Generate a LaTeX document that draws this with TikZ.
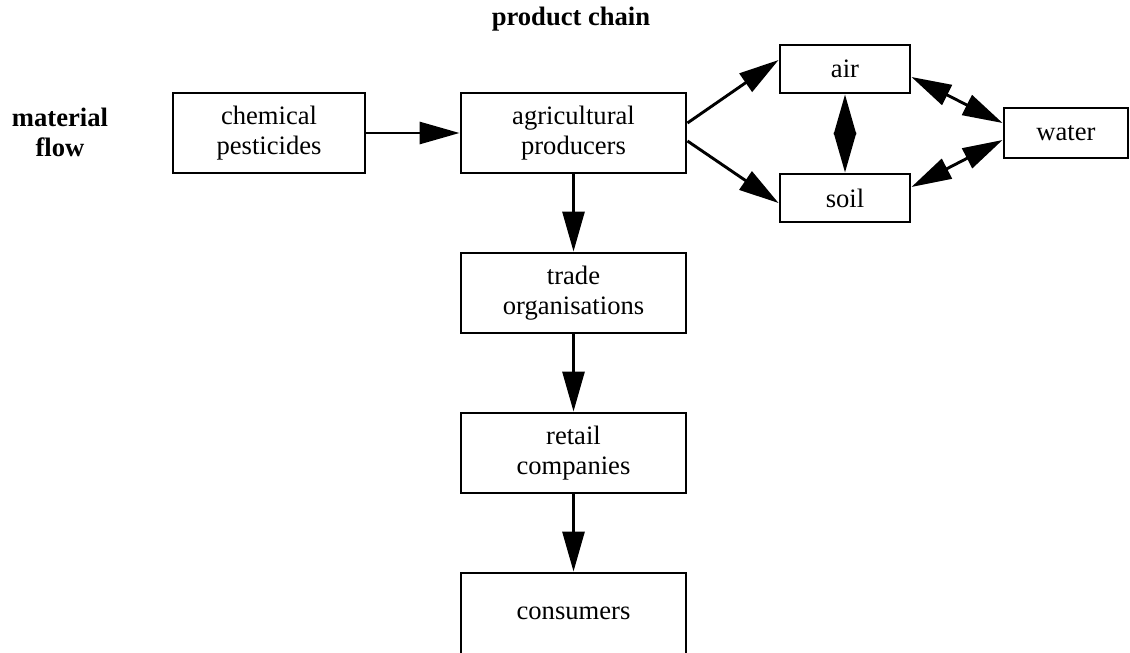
\documentclass[tikz,border=0pt]{standalone}
\usepackage{fontspec}
\setmainfont{Liberation Serif}
\usetikzlibrary{arrows.meta,calc}
\begin{document}
\begin{tikzpicture}[x=0.5pt,y=-0.5pt,
  txt/.style={font=\fontsize{13.3}{15}\selectfont},
  box/.style={txt,draw,line width=1.45pt,rectangle,inner sep=0pt,align=center},
  bigbox/.style={box,minimum width=112.5pt,minimum height=40pt},
  smallbox/.style={box,minimum width=65pt,minimum height=24pt},
  tip/.tip={Triangle[length=20pt,width=11pt]},
  flow/.style={line width=1.45pt,-tip},
  twoway/.style={line width=1.45pt,tip-tip},
  heading/.style={font=\fontsize{13.3}{15}\selectfont\bfseries,align=center}]
\useasboundingbox (0,0) rectangle (1130,653);
\clip (0,0) rectangle (1130,653);

% headings
\node[heading] (title) at (571,19) {product chain};
\node[heading] (side) at (60,132) {material\\flow};

% boxes
\node[box,minimum width=96pt,minimum height=40pt] (chem) at (269,133) {chemical\\pesticides};
\node[bigbox] (agri) at (573.5,133) {agricultural\\producers};
\node[bigbox] (trade) at (573.5,293) {trade\\organisations};
\node[bigbox] (retail) at (573.5,453) {retail\\companies};
\node[box,minimum width=112.5pt,minimum height=60pt] (cons) at (573.5,633) {};
\node[txt] (consl) at (573.5,613) {consumers};
\node[smallbox] (air) at (845,69) {air};
\node[smallbox] (soil) at (845,198) {soil};
\node[box,minimum width=62pt,minimum height=25pt] (water) at (1066,133) {water};

% product chain
\draw[flow] (chem) -- (agri);
\draw[flow] (agri) -- (trade);
\draw[flow] (trade) -- (retail);
\draw[flow] (retail) -- (cons);

% release into the environment
\draw[flow] ($(agri.east)+(0,-10)$) -- ($(air.west)+(0,-9)$);
\draw[flow] ($(agri.east)+(0,8)$) -- ($(soil.west)+(0,5)$);
\draw[twoway] (air.south) -- (soil.north);
\draw[twoway] ($(air.east)+(0,8)$) -- ($(water.west)+(0,-10)$);
\draw[twoway] ($(soil.east)+(0,-11)$) -- ($(water.west)+(0,7)$);
\end{tikzpicture}
\end{document}
